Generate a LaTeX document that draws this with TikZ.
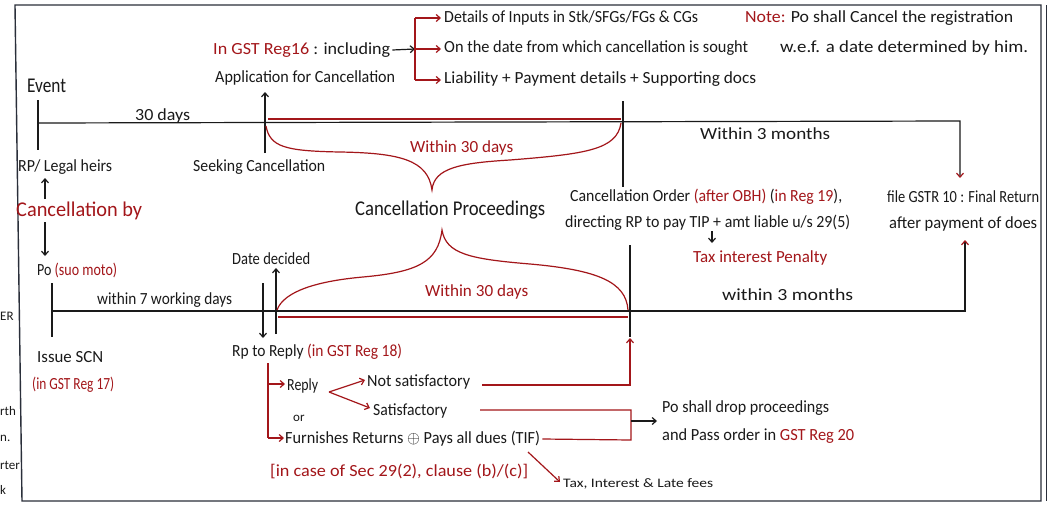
\documentclass[tikz,border=0pt]{standalone}
\usepackage{graphicx}
\usepackage{fontspec}
\setmainfont{Carlito}
\usetikzlibrary{arrows.meta}

\definecolor{ink}{HTML}{1A1A1A}
\definecolor{redink}{HTML}{A3161A}
\definecolor{frameink}{HTML}{2A2F3A}

% set a line of notes to a given width (horizontal stretch only)
\newcommand{\hw}[2]{\resizebox{#1pt}{\height}{#2}}
\newcommand{\rd}[1]{{\color{redink}#1}}

\tikzset{
  txt/.style={inner sep=0pt, anchor=west, text=ink, font=\fontsize{17}{20}\selectfont},
  bigtxt/.style={txt, font=\fontsize{21}{24}\selectfont},
  smalltxt/.style={txt, font=\fontsize{13}{15}\selectfont},
  redtxt/.style={txt, text=redink},
  pen/.style={draw=ink, line width=1.2pt},
  redpen/.style={draw=redink, line width=1.2pt},
  arr/.style={-{Straight Barb[length=4pt,width=7pt]}},
  redtip/.style={-{Straight Barb[length=4pt,width=7pt,color=redink]}},
}

\begin{document}
\begin{tikzpicture}[x=1pt,y=-1pt]
\useasboundingbox (0,0) rectangle (1052,509);
\fill[white] (0,0) rectangle (1052,509);

% page frame
\draw[draw=frameink, line width=1.4pt] (1041,5) -- (15,5) -- (22,501) -- (1041,501) -- cycle;
\draw[draw=frameink, line width=1pt] (1046,5) -- (1046,501);

% text bleeding in from the facing page
\node[smalltxt] (m1) at (0,316) {ER};
\node[smalltxt] (m2) at (0,411) {rth};
\node[smalltxt] (m3) at (0,438) {n.};
\node[smalltxt] (m4) at (0,465) {rter};
\node[smalltxt] (m5) at (0,490) {k};

% ---------- application by RP / legal heirs ----------
\node[bigtxt] (event) at (27,86) {\hw{39}{Event}};
\node[txt] (d30) at (135,116) {\hw{55}{30 days}};
\node[txt] (reg16) at (213,50) {\hw{177}{\rd{In GST Reg16} : including}};
\node[txt] (app) at (215,78) {\hw{180}{Application for Cancellation}};
\node[txt] (det1) at (444,18) {\hw{254}{Details of Inputs in Stk/SFGs/FGs \& CGs}};
\node[txt] (det2) at (444,48) {\hw{304}{On the date from which cancellation is sought}};
\node[txt] (det3) at (444,79) {\hw{312}{Liability + Payment details + Supporting docs}};
\node[txt] (note1) at (745,18) {\hw{268}{\rd{Note:} Po shall Cancel the registration}};
\node[txt] (note2) at (780,48) {\hw{248}{w.e.f. a date determined by him.}};
\node[txt] (w3a) at (700,134) {\hw{130}{Within 3 months}};
\node[txt] (rp) at (18,167) {\hw{94}{RP/ Legal heirs}};
\node[txt] (seek) at (193,167) {\hw{132}{Seeking Cancellation}};
\node[redtxt] (w30a) at (410,148) {\hw{103}{Within 30 days}};
\node[bigtxt, text=redink] (canby) at (16,211) {\hw{126}{Cancellation by}};
\node[bigtxt] (cproc) at (355,210) {\hw{190}{Cancellation Proceedings}};
\node[txt] (corder) at (570,197) {\hw{272}{Cancellation Order \rd{(after OBH)} (\rd{in Reg 19}),}};
\node[txt] (cdir) at (565,223) {\hw{285}{directing RP to pay TIP + amt liable u/s 29(5)}};
\node[txt] (gstr) at (887,197) {\hw{152}{file GSTR 10 : Final Return}};
\node[txt] (after) at (889,224) {\hw{148}{after payment of does}};
\node[redtxt] (pen) at (693,258) {\hw{134}{Tax interest Penalty}};

% ---------- suo moto cancellation by PO ----------
\node[txt] (po) at (37,270) {\hw{80}{Po \rd{(suo moto)}}};
\node[txt] (dated) at (232,259) {\hw{78}{Date decided}};
\node[txt] (w7) at (97,300) {\hw{135}{within 7 working days}};
\node[redtxt] (w30b) at (425,292) {\hw{103}{Within 30 days}};
\node[txt] (w3b) at (722,295) {\hw{131}{within 3 months}};
\node[txt] (scn) at (37,357) {\hw{66}{Issue SCN}};
\node[redtxt] (scnreg) at (32,385) {\hw{82}{(in GST Reg 17)}};
\node[txt] (rpr) at (232,352) {\hw{170}{Rp to Reply \rd{(in GST Reg 18)}}};
\node[txt] (reply) at (287,386) {\hw{31}{Reply}};
\node[smalltxt] (or) at (293,418) {or};
\node[txt] (notsat) at (367,382) {\hw{103}{Not satisfactory}};
\node[txt] (sat) at (373,411) {\hw{74}{Satisfactory}};
\node[txt] (furn) at (285,439) {\hw{255}{Furnishes Returns $\oplus$ Pays all dues (TIF)}};
\node[redtxt] (incase) at (270,471) {\hw{258}{[in case of Sec 29(2), clause (b)/(c)]}};
\node[txt] (drop1) at (662,408) {\hw{167}{Po shall drop proceedings}};
\node[txt] (drop2) at (662,436) {\hw{192}{and Pass order in \rd{GST Reg 20}}};
\node[smalltxt] (tif) at (563,484) {\hw{150}{Tax, Interest \& Late fees}};

% ---------- top time line ----------
\coordinate (evTop) at (38,100);
\coordinate (evBot) at (38,150);
\coordinate (gEnd) at (960,121);
\coordinate (gTip) at (960,178);
\draw[pen] (evTop) -- (evBot);
\draw[pen, redtip] (38,123) -- (gEnd) -- (gTip);
\draw[pen, arr] (265,153) -- (265,92);
\draw[redpen] (268,119) -- (621,119);
\draw[pen] (623,101) -- (623,187);

% brace: cancellation proceedings (application)
\draw[redpen] (266,126) .. controls (270,147) and (285,151) .. (340,152)
  .. controls (400,153) and (428,160) .. (432,190)
  .. controls (434,168) and (460,163) .. (510,160)
  .. controls (585,154) and (617,150) .. (621,123);

% contents of the application
\coordinate (bTop) at (415,18);
\coordinate (bMid) at (415,49);
\coordinate (bBot) at (415,80);
\draw[pen, arr] ([xshift=2pt]reg16.east) -- (bMid);
\draw[redpen] (bTop) -- (bBot);
\draw[redpen, arr] (bTop) -- ([xshift=-3pt]bTop -| det1.west);
\draw[redpen, arr] (bMid) -- ([xshift=-3pt]bMid -| det2.west);
\draw[redpen, arr] (bBot) -- ([xshift=-3pt]bBot -| det3.west);

% RP / PO branches
\draw[pen, arr] (45,199) -- (45,178);
\draw[pen, arr] (45,222) -- (45,256);

% TIP breakdown
\draw[pen, arr] (712,231) -- (712,243);

% ---------- bottom time line ----------
\draw[pen] (52,283) -- (52,337);
\draw[pen, redtip] (52,311) -- (965,311) -- (965,240);
\draw[pen, arr] (263,283) -- (263,338);
\draw[pen, arr] (276,334) -- (276,268);
\draw[redpen] (278,317) -- (628,317);
\draw[pen] (630,245) -- (630,337);

% brace: cancellation proceedings (suo moto)
\draw[redpen] (277,310) .. controls (284,291) and (318,281) .. (363,277)
  .. controls (418,272) and (438,262) .. (442,230)
  .. controls (446,254) and (470,259) .. (530,264)
  .. controls (598,270) and (626,282) .. (628,310);

% reply options
\draw[redpen] (268,363) -- (268,438);
\draw[redpen, arr] (268,384) -- ([xshift=-2pt]268,384 -| reply.west);
\draw[redpen, arr] (268,438) -- ([xshift=-1pt]268,438 -| furn.west);
\draw[redpen, arr] (329,392) -- (365,380);
\draw[redpen, arr] (329,392) -- (370,408);
\draw[redpen, arr] (482,385) -- (630,385) -- (630,338);
\draw[redpen] (480,410) -- (631,410) -- (631,440) -- ([xshift=2pt]furn.east);
\draw[pen, arr] (631,421) -- ([xshift=-5pt]631,421 -| drop1.west);
\draw[redpen, arr] (528,452) -- (560,482);
\end{tikzpicture}
\end{document}
